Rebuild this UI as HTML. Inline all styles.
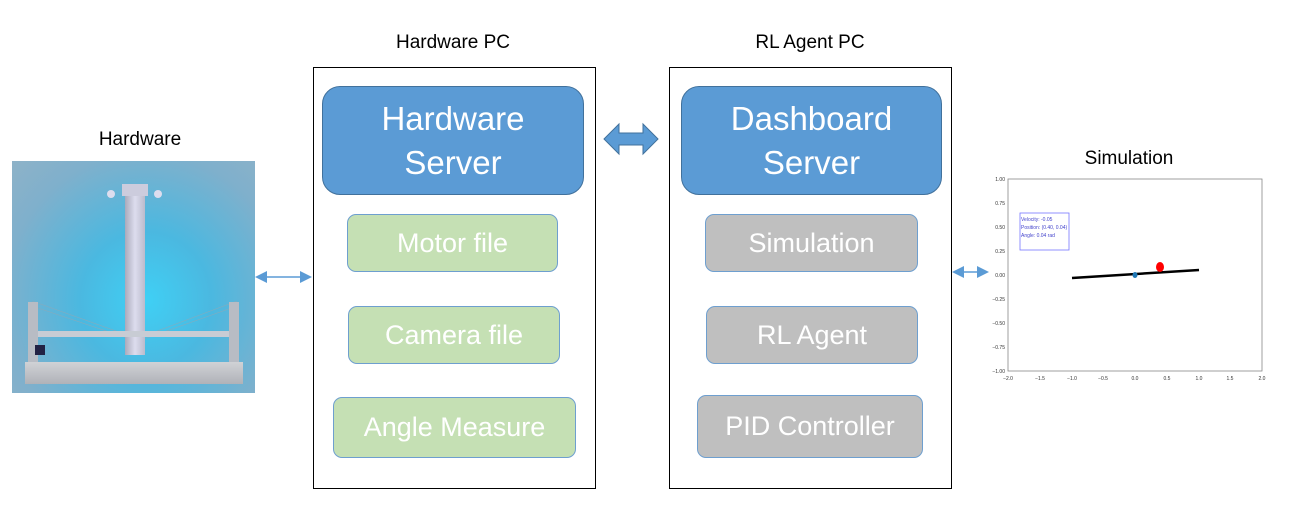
<!DOCTYPE html><html><head><style>
body{margin:0;width:1293px;height:526px;background:#fff;position:relative;overflow:hidden;font-family:"Liberation Sans","DejaVu Sans",sans-serif}
.a{position:absolute}
.lbl{position:absolute;font-size:19px;color:#000;text-align:center;width:200px}
.frame{position:absolute;border:1px solid #000;box-sizing:border-box}
.srv{position:absolute;background:#5b9bd5;border:1px solid #41719c;border-radius:18px;color:#fff;font-size:33px;line-height:44px;text-align:center;box-sizing:border-box;display:flex;align-items:center;justify-content:center}
.bx{position:absolute;border-radius:9px;color:#fff;font-size:27px;text-align:center;box-sizing:border-box;display:flex;align-items:center;justify-content:center}
.g{background:#c5e0b4;border:1px solid #6e9fcf}
.y{background:#bfbfbf;border:1px solid #6e9fcf}
</style></head><body>
<div class="lbl" style="left:40px;top:129px">Hardware</div>
<div class="lbl" style="left:353px;top:32px">Hardware PC</div>
<div class="lbl" style="left:710px;top:32px">RL Agent PC</div>
<div class="lbl" style="left:1029px;top:148px">Simulation</div>

<!-- photo -->
<div class="a" style="left:12px;top:161px;width:243px;height:232px;background:radial-gradient(ellipse at 55% 60%,#3fd0f5 0%,#4bb8e0 35%,#7fb0cc 75%,#8eb2c8 100%)"></div>
<svg class="a" style="left:12px;top:161px" width="243" height="232">
<line x1="20" y1="140" x2="118" y2="175" stroke="#8ab" stroke-width="0.6"/>
<line x1="20" y1="145" x2="118" y2="178" stroke="#8ab" stroke-width="0.6"/>
<line x1="225" y1="140" x2="132" y2="175" stroke="#8ab" stroke-width="0.6"/>
<line x1="225" y1="145" x2="132" y2="178" stroke="#8ab" stroke-width="0.6"/>
</svg>
<div class="a" style="left:125px;top:195px;width:20px;height:160px;background:linear-gradient(90deg,#aab,#dde,#bbc)"></div>
<div class="a" style="left:122px;top:184px;width:26px;height:12px;background:#ccd"></div>
<div class="a" style="left:107px;top:190px;width:8px;height:8px;background:#dde;border-radius:50%"></div>
<div class="a" style="left:154px;top:190px;width:8px;height:8px;background:#dde;border-radius:50%"></div>
<div class="a" style="left:38px;top:331px;width:192px;height:6px;background:#c8ccd4"></div>
<div class="a" style="left:28px;top:302px;width:10px;height:62px;background:#b8bcc4"></div>
<div class="a" style="left:229px;top:302px;width:10px;height:62px;background:#b8bcc4"></div>
<div class="a" style="left:25px;top:362px;width:218px;height:22px;background:linear-gradient(#d0d2d6,#b0b2b8)"></div>
<div class="a" style="left:35px;top:345px;width:10px;height:10px;background:#224"></div>

<!-- arrows -->
<svg class="a" style="left:0;top:0" width="1293" height="526">
<defs><marker id="m" markerWidth="8" markerHeight="8" refX="6" refY="4" orient="auto-start-reverse"><path d="M0,0L8,4L0,8z" fill="#5b9bd5"/></marker></defs>
<line x1="258" y1="277" x2="309" y2="277" stroke="#5b9bd5" stroke-width="1.5" marker-start="url(#m)" marker-end="url(#m)"/>
<line x1="955" y1="272" x2="986" y2="272" stroke="#5b9bd5" stroke-width="1.5" marker-start="url(#m)" marker-end="url(#m)"/>
<path d="M604,139 L619,124 L619,133 L643,133 L643,124 L658,139 L643,154 L643,145 L619,145 L619,154 Z" fill="#5b9bd5" stroke="#41719c" stroke-width="1"/>
</svg>

<div class="frame" style="left:313px;top:67px;width:283px;height:422px"></div>
<div class="frame" style="left:669px;top:67px;width:283px;height:422px"></div>
<div class="srv" style="left:322px;top:86px;width:262px;height:109px">Hardware<br>Server</div>
<div class="srv" style="left:681px;top:86px;width:261px;height:109px">Dashboard<br>Server</div>
<div class="bx g" style="left:347px;top:214px;width:211px;height:58px">Motor file</div>
<div class="bx g" style="left:348px;top:306px;width:212px;height:58px">Camera file</div>
<div class="bx g" style="left:333px;top:397px;width:243px;height:61px">Angle Measure</div>
<div class="bx y" style="left:705px;top:214px;width:213px;height:58px">Simulation</div>
<div class="bx y" style="left:706px;top:306px;width:212px;height:58px">RL Agent</div>
<div class="bx y" style="left:697px;top:395px;width:226px;height:63px">PID Controller</div>

<!-- plot -->
<svg class="a" style="left:980px;top:170px" width="300" height="220" font-family="Liberation Sans,sans-serif" font-size="5" fill="#333">
<rect x="28" y="9" width="254" height="192" fill="#fff" stroke="#888" stroke-width="0.8"/>
<g text-anchor="end">
<text x="25" y="11">1.00</text><text x="25" y="35">0.75</text><text x="25" y="59">0.50</text><text x="25" y="83">0.25</text><text x="25" y="107">0.00</text><text x="25" y="131">−0.25</text><text x="25" y="155">−0.50</text><text x="25" y="179">−0.75</text><text x="25" y="203">−1.00</text>
</g>
<g text-anchor="middle">
<text x="28" y="210">−2.0</text><text x="60" y="210">−1.5</text><text x="92" y="210">−1.0</text><text x="123" y="210">−0.5</text><text x="155" y="210">0.0</text><text x="187" y="210">0.5</text><text x="219" y="210">1.0</text><text x="250" y="210">1.5</text><text x="282" y="210">2.0</text>
</g>
<rect x="40" y="43" width="49" height="37" fill="none" stroke="#77f" stroke-width="0.8"/>
<g fill="#44c" font-size="5"><text x="41" y="51">Velocity: -0.05</text><text x="41" y="59">Position: (0.40, 0.04)</text><text x="41" y="67">Angle: 0.04 rad</text></g>
<line x1="92" y1="108" x2="219" y2="100" stroke="#000" stroke-width="2.5"/>
<ellipse cx="155" cy="105" rx="2.5" ry="3" fill="#1f77b4"/>
<ellipse cx="180" cy="97" rx="4" ry="5" fill="#f00"/>
</svg>
</body></html>
